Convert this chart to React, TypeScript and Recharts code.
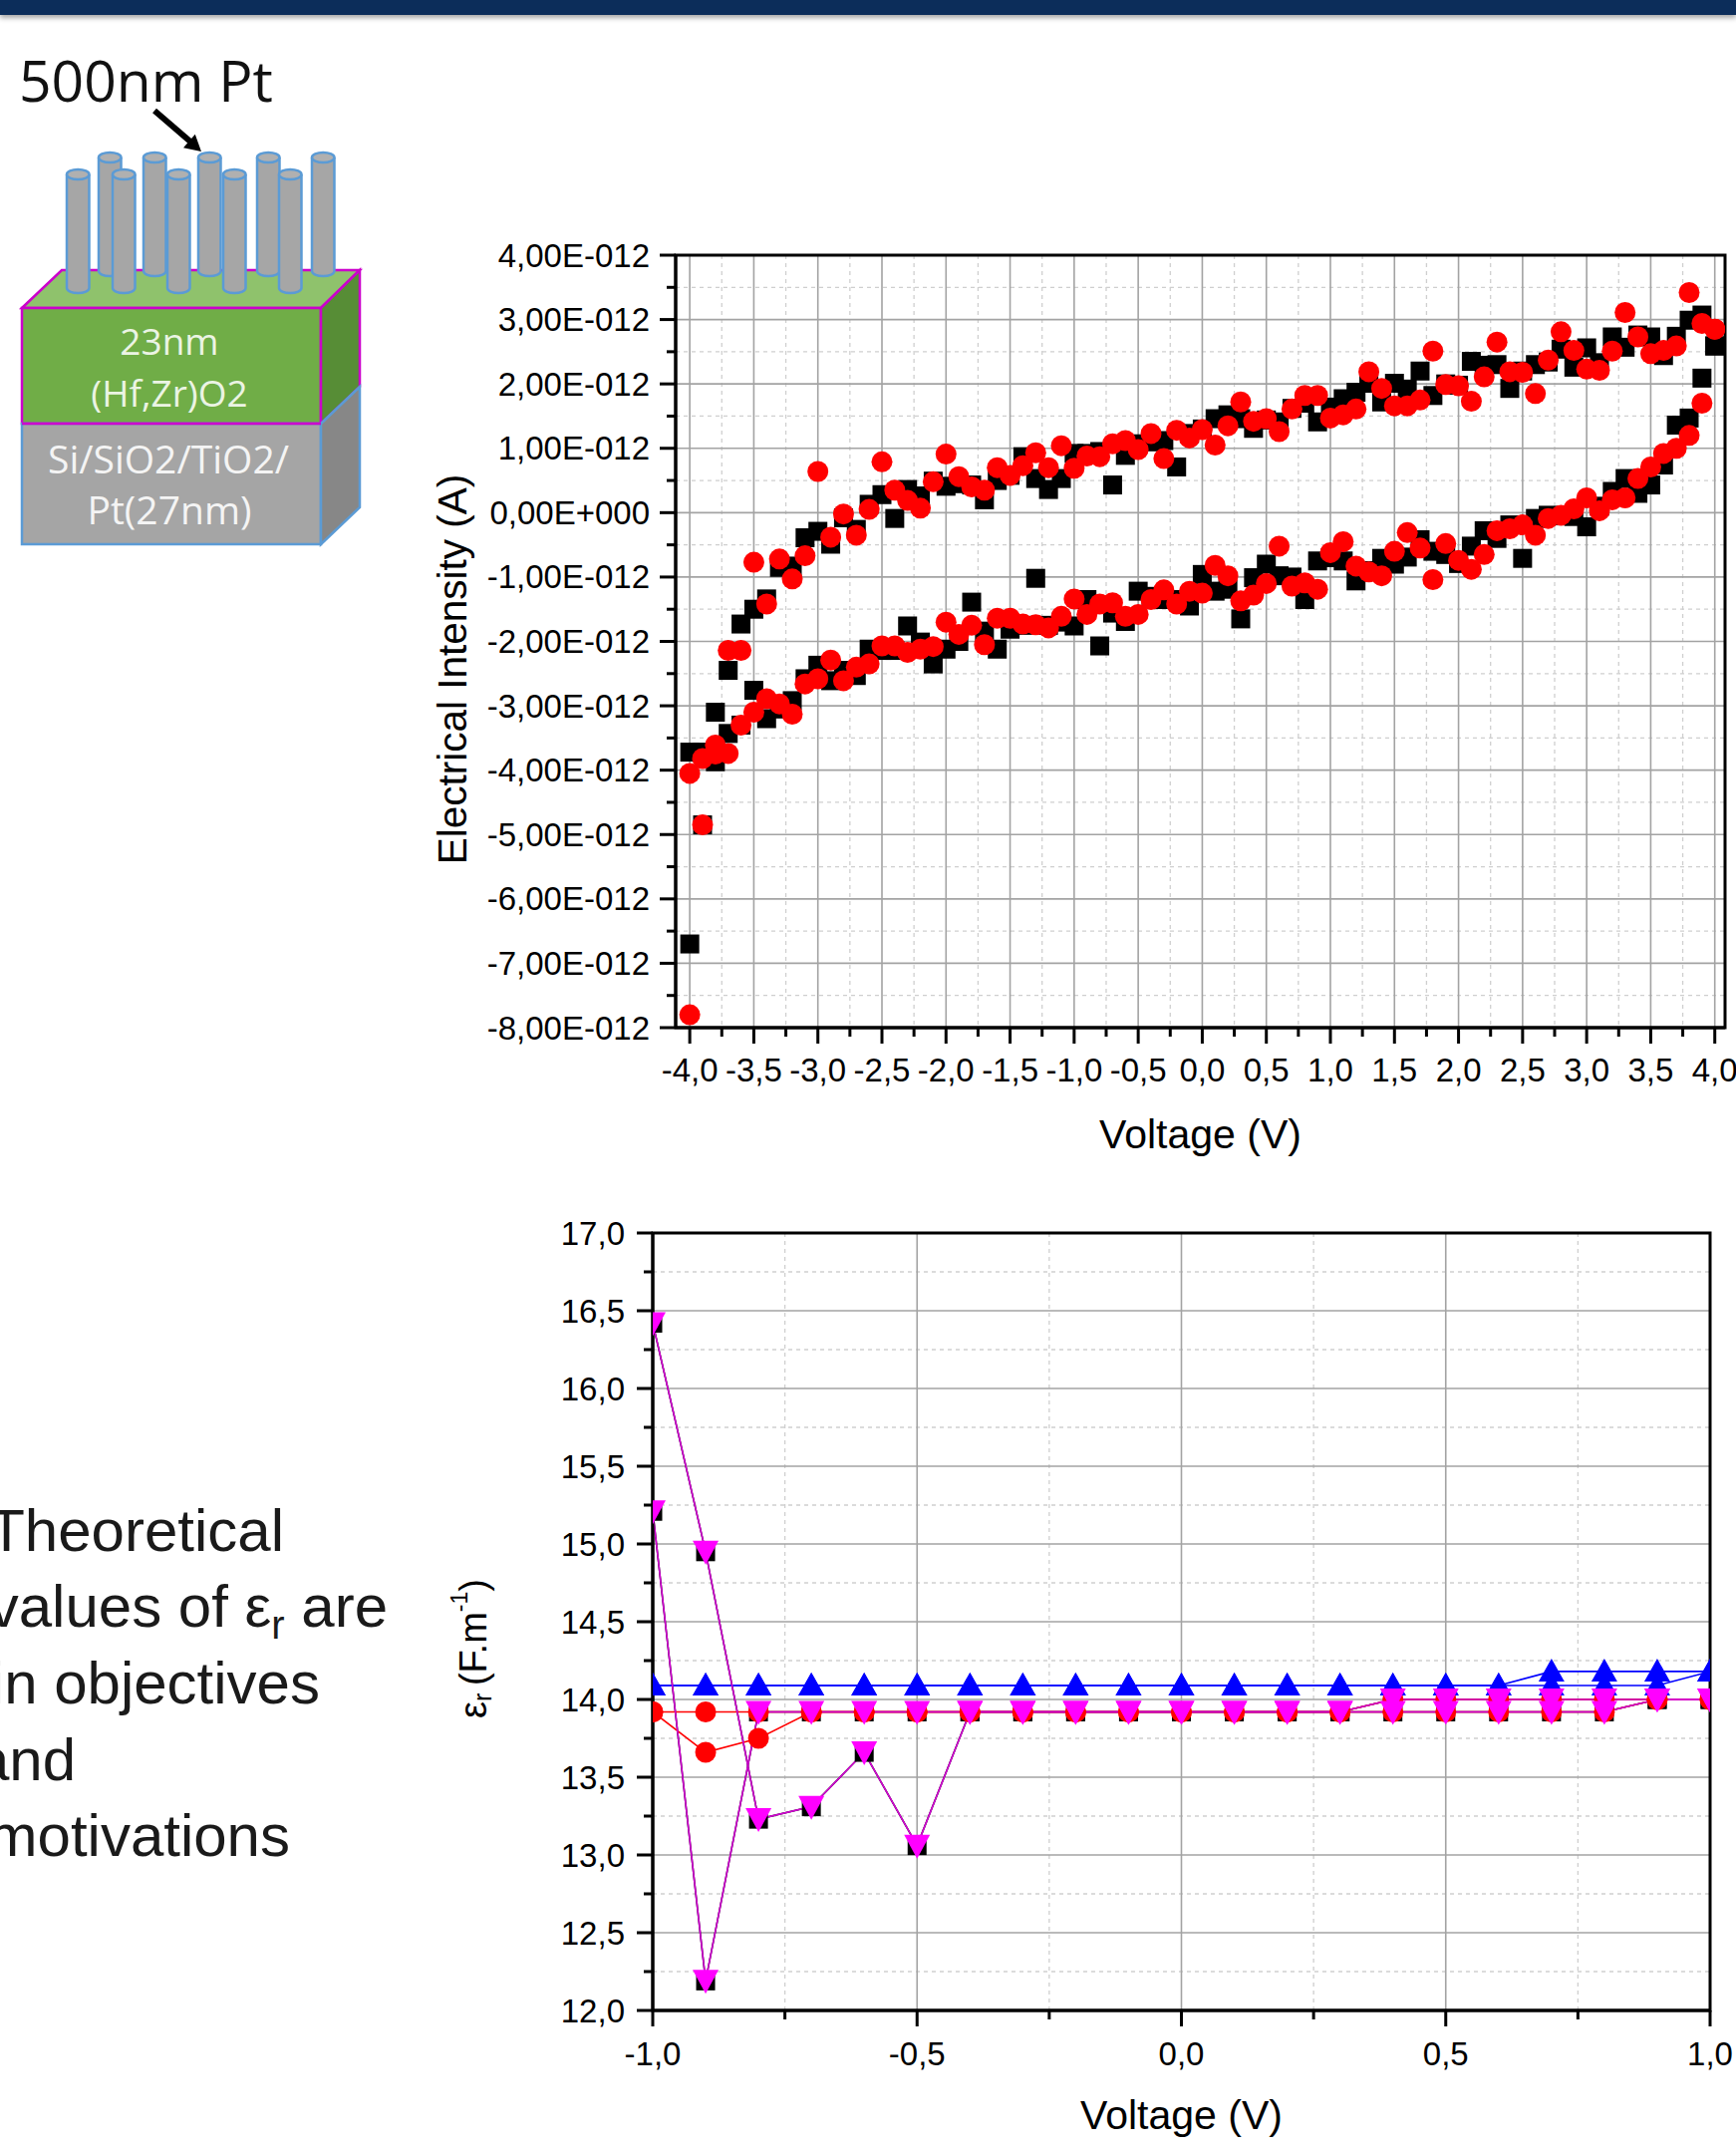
import React from 'react';
import {
  ScatterChart,
  Scatter,
  LineChart,
  Line,
  XAxis,
  YAxis,
  CartesianGrid,
  ReferenceArea,
} from 'recharts';

const FONT = '"Liberation Sans", Arial, sans-serif';
const SLIDE_FONT = '"Open Sans", "Noto Sans", sans-serif';

// ---------------- I–V loop (top chart), current in units of 1E-12 A ----------------
const VOLTAGE = [
  -4.0, -3.9, -3.8, -3.7, -3.6, -3.5, -3.4, -3.3, -3.2, -3.1,
  -3.0, -2.9, -2.8, -2.7, -2.6, -2.5, -2.4, -2.3, -2.2, -2.1,
  -2.0, -1.9, -1.8, -1.7, -1.6, -1.5, -1.4, -1.3, -1.2, -1.1,
  -1.0, -0.9, -0.8, -0.7, -0.6, -0.5, -0.4, -0.3, -0.2, -0.1,
  0.0, 0.1, 0.2, 0.3, 0.4, 0.5, 0.6, 0.7, 0.8, 0.9,
  1.0, 1.1, 1.2, 1.3, 1.4, 1.5, 1.6, 1.7, 1.8, 1.9,
  2.0, 2.1, 2.2, 2.3, 2.4, 2.5, 2.6, 2.7, 2.8, 2.9,
  3.0, 3.1, 3.2, 3.3, 3.4, 3.5, 3.6, 3.7, 3.8, 3.9,
  4.0,
];

const BLACK_UP = [
  -6.70, -4.85, -3.10, -2.45, -1.73, -1.50, -1.34, -0.85, -0.83, -0.39,
  -0.29, -0.49, -0.08, -0.26, 0.13, 0.28, -0.09, 0.36, 0.26, 0.49,
  0.41, 0.45, 0.43, 0.20, 0.50, 0.58, 0.87, 0.53, 0.36, 0.53,
  0.92, 0.92, 0.95, 0.43, 0.89, 1.07, 1.10, 1.12, 0.71, 1.23,
  1.30, 1.46, 1.52, 1.46, 1.31, 1.44, 1.41, 1.62, 1.70, 1.41,
  1.64, 1.77, 1.87, 2.01, 1.72, 2.01, 1.92, 2.20, 1.82, 2.00,
  1.98, 2.35, 2.29, 2.30, 1.93, 2.20, 2.30, 2.34, 2.54, 2.26,
  2.56, 2.33, 2.73, 2.57, 2.76, 2.73, 2.44, 2.74, 2.99, 3.07,
  2.59,
];

const BLACK_DOWN = [
  -3.72, -3.72, -3.87, -3.43, -3.30, -2.76, -3.20, -3.05, -2.92, -2.58,
  -2.37, -2.61, -2.45, -2.53, -2.12, -2.14, -2.14, -1.76, -2.01, -2.35,
  -2.12, -2.00, -1.39, -1.84, -2.12, -1.81, -1.75, -1.02, -1.75, -1.70,
  -1.76, -1.35, -2.07, -1.56, -1.69, -1.22, -1.30, -1.35, -1.35, -1.45,
  -0.96, -1.22, -1.19, -1.65, -1.01, -0.80, -0.98, -1.00, -1.35, -0.75,
  -0.70, -0.75, -1.06, -0.90, -0.71, -0.80, -0.69, -0.42, -0.60, -0.65,
  -0.79, -0.52, -0.28, -0.40, -0.19, -0.71, -0.09, -0.04, -0.05, -0.06,
  -0.22, 0.10, 0.33, 0.53, 0.30, 0.43, 0.74, 1.36, 1.47, 2.09,
  2.59,
];

const RED_UP = [
  -7.80, -4.85, -3.61, -2.14, -2.14, -0.77, -1.42, -0.72, -1.03, -0.67,
  0.64, -0.38, -0.02, -0.35, 0.05, 0.79, 0.35, 0.19, 0.07, 0.48,
  0.91, 0.56, 0.40, 0.35, 0.70, 0.58, 0.73, 0.93, 0.70, 1.04,
  0.69, 0.88, 0.87, 1.07, 1.12, 0.98, 1.23, 0.84, 1.28, 1.16,
  1.29, 1.05, 1.35, 1.72, 1.42, 1.46, 1.26, 1.61, 1.82, 1.82,
  1.47, 1.52, 1.61, 2.19, 1.93, 1.66, 1.66, 1.75, 2.51, 1.99,
  1.97, 1.73, 2.11, 2.65, 2.19, 2.18, 1.85, 2.37, 2.81, 2.52,
  2.23, 2.21, 2.51, 3.11, 2.73, 2.47, 2.52, 2.59, 3.42, 2.94,
  2.85,
];

const RED_DOWN = [
  -4.05, -3.82, -3.75, -3.74, -3.30, -3.10, -2.89, -2.97, -3.13, -2.66,
  -2.58, -2.29, -2.61, -2.40, -2.35, -2.07, -2.07, -2.17, -2.12, -2.08,
  -1.70, -1.89, -1.75, -2.05, -1.64, -1.64, -1.73, -1.74, -1.79, -1.61,
  -1.34, -1.58, -1.42, -1.40, -1.61, -1.58, -1.35, -1.20, -1.42, -1.22,
  -1.25, -0.82, -0.98, -1.37, -1.28, -1.10, -0.52, -1.14, -1.09, -1.19,
  -0.62, -0.45, -0.83, -0.92, -0.98, -0.60, -0.31, -0.55, -1.04, -0.48,
  -0.74, -0.88, -0.65, -0.28, -0.25, -0.19, -0.35, -0.09, -0.04, 0.06,
  0.23, 0.03, 0.20, 0.23, 0.53, 0.71, 0.92, 1.00, 1.20, 1.70,
  2.85,
];

const IV_X_DOMAIN = [-4.11, 4.08];
const IV_Y_DOMAIN = [-8, 4];
const IV_X_TICKS = [
  -4, -3.75, -3.5, -3.25, -3, -2.75, -2.5, -2.25, -2, -1.75, -1.5, -1.25, -1, -0.75, -0.5, -0.25,
  0, 0.25, 0.5, 0.75, 1, 1.25, 1.5, 1.75, 2, 2.25, 2.5, 2.75, 3, 3.25, 3.5, 3.75, 4,
];
const IV_X_MAJOR = [-4, -3.5, -3, -2.5, -2, -1.5, -1, -0.5, 0, 0.5, 1, 1.5, 2, 2.5, 3, 3.5, 4];
const IV_X_MINOR = [-3.75, -3.25, -2.75, -2.25, -1.75, -1.25, -0.75, -0.25, 0.25, 0.75, 1.25, 1.75, 2.25, 2.75, 3.25, 3.75];
const IV_Y_TICKS = [
  -8, -7.5, -7, -6.5, -6, -5.5, -5, -4.5, -4, -3.5, -3, -2.5, -2, -1.5, -1, -0.5,
  0, 0.5, 1, 1.5, 2, 2.5, 3, 3.5, 4,
];
const IV_Y_MAJOR = [-8, -7, -6, -5, -4, -3, -2, -1, 0, 1, 2, 3, 4];
const IV_Y_MINOR = [-7.5, -6.5, -5.5, -4.5, -3.5, -2.5, -1.5, -0.5, 0.5, 1.5, 2.5, 3.5];

// ---------------- permittivity vs voltage (bottom chart) ----------------
const EPS_VOLTAGE = [
  -1.0, -0.9, -0.8, -0.7, -0.6, -0.5, -0.4, -0.3, -0.2, -0.1,
  0.0, 0.1, 0.2, 0.3, 0.4, 0.5, 0.6, 0.7, 0.8, 0.9, 1.0,
];
const BLUE_A = [
  14.09, 14.09, 14.09, 14.09, 14.09, 14.09, 14.09, 14.09, 14.09, 14.09,
  14.09, 14.09, 14.09, 14.09, 14.09, 14.09, 14.09, 14.09, 14.09, 14.09, 14.18,
];
const BLUE_B = [
  14.09, 14.09, 14.09, 14.09, 14.09, 14.09, 14.09, 14.09, 14.09, 14.09,
  14.09, 14.09, 14.09, 14.09, 14.09, 14.09, 14.09, 14.18, 14.18, 14.18, 14.18,
];
const RED_A = [
  13.92, 13.66, 13.75, 13.92, 13.92, 13.92, 13.92, 13.92, 13.92, 13.92,
  13.92, 13.92, 13.92, 13.92, 14.0, 14.0, 14.0, 14.0, 14.0, 14.0, 14.0,
];
const RED_B = [
  13.92, 13.92, 13.92, 13.92, 13.92, 13.92, 13.92, 13.92, 13.92, 13.92,
  13.92, 13.92, 13.92, 13.92, 13.92, 13.92, 13.92, 13.92, 13.92, 14.0, 14.0,
];
const MAGENTA_A = [
  16.42, 14.95, 13.23, 13.31, 13.66, 13.06, 13.92, 13.92, 13.92, 13.92,
  13.92, 13.92, 13.92, 13.92, 14.0, 14.0, 14.0, 14.0, 14.0, 14.0, 14.0,
];
const MAGENTA_B = [
  15.21, 12.19, 13.92, 13.92, 13.92, 13.92, 13.92, 13.92, 13.92, 13.92,
  13.92, 13.92, 13.92, 13.92, 13.92, 13.92, 13.92, 13.92, 13.92, 14.0, 14.0,
];
const BLACK_A = [
  16.42, 14.95, 13.23, 13.31, 13.66, 13.06, 13.92, 13.92, 13.92, 13.92,
  13.92, 13.92, 13.92, 13.92, 14.0, 14.0, 14.0, 14.0, 14.0, 14.0, 14.0,
];
const BLACK_B = [
  15.21, 12.19, 13.92, 13.92, 13.92, 13.92, 13.92, 13.92, 13.92, 13.92,
  13.92, 13.92, 13.92, 13.92, 13.92, 13.92, 13.92, 13.92, 13.92, 14.0, 14.0,
];

const EPS_X_DOMAIN = [-1, 1];
const EPS_Y_DOMAIN = [12, 17];
const EPS_X_TICKS = [-1, -0.75, -0.5, -0.25, 0, 0.25, 0.5, 0.75, 1];
const EPS_X_MAJOR = [-1, -0.5, 0, 0.5, 1];
const EPS_X_MINOR = [-0.75, -0.25, 0.25, 0.75];
const EPS_Y_TICKS = [
  12, 12.25, 12.5, 12.75, 13, 13.25, 13.5, 13.75, 14, 14.25, 14.5, 14.75,
  15, 15.25, 15.5, 15.75, 16, 16.25, 16.5, 16.75, 17,
];
const EPS_Y_MAJOR = [12, 12.5, 13, 13.5, 14, 14.5, 15, 15.5, 16, 16.5, 17];
const EPS_Y_MINOR = [12.25, 12.75, 13.25, 13.75, 14.25, 14.75, 15.25, 15.75, 16.25, 16.75];

// ---------------- derived tables ----------------
const toPoints = (up: number[], down: number[]) => [
  ...VOLTAGE.map((v, k) => ({ v, i: up[k] })),
  ...VOLTAGE.map((v, k) => ({ v, i: down[k] })),
];
const BLACK_POINTS = toPoints(BLACK_UP, BLACK_DOWN);
const RED_POINTS = toPoints(RED_UP, RED_DOWN);

const EPS_ROWS = EPS_VOLTAGE.map((v, k) => ({
  v,
  blkA: BLACK_A[k],
  blkB: BLACK_B[k],
  redA: RED_A[k],
  redB: RED_B[k],
  blueA: BLUE_A[k],
  blueB: BLUE_B[k],
  magA: MAGENTA_A[k],
  magB: MAGENTA_B[k],
}));

// ---------------- formatters / tick renderers ----------------
const isMultiple = (v: number, step: number) => Math.abs(v / step - Math.round(v / step)) < 1e-6;
const fmtComma1 = (v: number) => (Math.abs(v) < 1e-9 ? 0 : v).toFixed(1).replace('.', ',');
const fmtCurrent = (v: number) =>
  Math.abs(v) < 1e-9 ? '0,00E+000' : `${v.toFixed(2).replace('.', ',')}E-012`;

const makeXTick = (step: number, fmt: (v: number) => string, gap: number, fontSize: number) => (props: any) => {
  const { x, y, payload } = props;
  const v = payload.value;
  const major = isMultiple(v, step);
  return (
    <g>
      <line x1={x} x2={x} y1={y} y2={y + (major ? 16 : 9)} stroke="#000" strokeWidth={3} />
      {major && (
        <text x={x} y={y + gap} textAnchor="middle" dominantBaseline="central" fontFamily={FONT} fontSize={fontSize} fill="#000">
          {fmt(v)}
        </text>
      )}
    </g>
  );
};

const makeYTick = (step: number, fmt: (v: number) => string, gap: number, fontSize: number) => (props: any) => {
  const { x, y, payload } = props;
  const v = payload.value;
  const major = isMultiple(v, step);
  return (
    <g>
      <line x1={x} x2={x - (major ? 16 : 9)} y1={y} y2={y} stroke="#000" strokeWidth={3} />
      {major && (
        <text x={x - gap} y={y} textAnchor="end" dominantBaseline="central" fontFamily={FONT} fontSize={fontSize} fill="#000">
          {fmt(v)}
        </text>
      )}
    </g>
  );
};

const XTitle = (props: any) => {
  const { viewBox, text, dy } = props;
  const { x, y, width } = viewBox;
  return (
    <text x={x + width / 2} y={y + dy} textAnchor="middle" dominantBaseline="central" fontFamily={FONT} fontSize={41} fill="#000">
      {text}
    </text>
  );
};

const IVYTitle = (props: any) => {
  const { viewBox } = props;
  const cx = viewBox.x + viewBox.width - 224;
  const cy = viewBox.y + viewBox.height / 2 + 28;
  return (
    <text x={cx} y={cy} transform={`rotate(-90 ${cx} ${cy})`} textAnchor="middle" dominantBaseline="central" fontFamily={FONT} fontSize={40.5} fill="#000">
      Electrical Intensity (A)
    </text>
  );
};

const EpsYTitle = (props: any) => {
  const { viewBox } = props;
  const cx = viewBox.x + viewBox.width - 180;
  const cy = viewBox.y + viewBox.height / 2 + 27;
  return (
    <text x={cx} y={cy} transform={`rotate(-90 ${cx} ${cy})`} textAnchor="middle" dominantBaseline="central" fontFamily={FONT} fontSize={38} fill="#000">
      ε
      <tspan fontSize={25} dy={9}>r</tspan>
      <tspan dy={-9}>{'\u2009(F.m'}</tspan>
      <tspan fontSize={23} dy={-14}>-1</tspan>
      <tspan dy={14}>)</tspan>
    </text>
  );
};

// ---------------- marker shapes ----------------
const squareShape = (size: number, color: string) => (p: any) => (
  <rect key={`s-${p.index}-${p.cx}-${p.cy}`} x={p.cx - size / 2} y={p.cy - size / 2} width={size} height={size} fill={color} />
);
const circleShape = (r: number, color: string) => (p: any) => (
  <circle key={`c-${p.index}-${p.cx}-${p.cy}`} cx={p.cx} cy={p.cy} r={r} fill={color} />
);
const triUpShape = (color: string) => (p: any) => (
  <polygon
    key={`u-${p.index}-${p.cx}-${p.cy}`}
    points={`${p.cx},${p.cy - 13} ${p.cx + 13},${p.cy + 10} ${p.cx - 13},${p.cy + 10}`}
    fill={color}
  />
);
const triDownShape = (color: string) => (p: any) => (
  <polygon
    key={`d-${p.index}-${p.cx}-${p.cy}`}
    points={`${p.cx - 13},${p.cy - 11} ${p.cx + 13},${p.cy - 11} ${p.cx},${p.cy + 13}`}
    fill={color}
  />
);

const AXIS_LINE = { stroke: '#000', strokeWidth: 3 };

// ---------------- charts ----------------
const IVChart = () => (
  <ScatterChart width={1742} height={1180} margin={{ top: 256, right: 11, bottom: 9, left: 378 }}>
    <CartesianGrid verticalValues={IV_X_MINOR} horizontalValues={IV_Y_MINOR} stroke="#cfcfcf" strokeDasharray="4 4" strokeWidth={1.3} />
    <CartesianGrid verticalValues={IV_X_MAJOR} horizontalValues={IV_Y_MAJOR} stroke="#a3a3a3" strokeWidth={1.6} />
    <XAxis
      type="number"
      dataKey="v"
      domain={IV_X_DOMAIN}
      ticks={IV_X_TICKS}
      interval={0}
      allowDataOverflow
      height={140}
      tickLine={false}
      tickSize={0}
      tickMargin={0}
      axisLine={AXIS_LINE}
      tick={makeXTick(0.5, fmtComma1, 42, 33)}
      label={<XTitle text="Voltage (V)" dy={107} />}
    />
    <YAxis
      type="number"
      dataKey="i"
      domain={IV_Y_DOMAIN}
      ticks={IV_Y_TICKS}
      interval={0}
      allowDataOverflow
      width={300}
      tickLine={false}
      tickSize={0}
      tickMargin={0}
      axisLine={AXIS_LINE}
      tick={makeYTick(1, fmtCurrent, 26, 33)}
      label={<IVYTitle />}
    />
    <ReferenceArea
      x1={IV_X_DOMAIN[0]}
      x2={IV_X_DOMAIN[1]}
      y1={IV_Y_DOMAIN[0]}
      y2={IV_Y_DOMAIN[1]}
      fill="none"
      fillOpacity={0}
      stroke="#000"
      strokeWidth={3}
      ifOverflow="visible"
    />
    <Scatter data={BLACK_POINTS} shape={squareShape(19, '#000000')} isAnimationActive={false} />
    <Scatter data={RED_POINTS} shape={circleShape(10.5, '#ff0000')} isAnimationActive={false} />
  </ScatterChart>
);

const EPS_SERIES = [
  { key: 'blkA', color: '#000000', dot: squareShape(19, '#000000') },
  { key: 'blkB', color: '#000000', dot: squareShape(19, '#000000') },
  { key: 'redA', color: '#ff0000', dot: circleShape(10.5, '#ff0000') },
  { key: 'redB', color: '#ff0000', dot: circleShape(10.5, '#ff0000') },
  { key: 'blueA', color: '#0000ff', dot: triUpShape('#0000ff') },
  { key: 'blueB', color: '#0000ff', dot: triUpShape('#0000ff') },
  { key: 'magA', color: '#d400d4', dot: triDownShape('#ff00ff') },
  { key: 'magB', color: '#d400d4', dot: triDownShape('#ff00ff') },
];

const EpsChart = () => (
  <LineChart width={1742} height={977} data={EPS_ROWS} margin={{ top: 57, right: 26, bottom: 10, left: 405 }}>
    <CartesianGrid verticalValues={EPS_X_MINOR} horizontalValues={EPS_Y_MINOR} stroke="#cfcfcf" strokeDasharray="4 4" strokeWidth={1.3} />
    <CartesianGrid verticalValues={EPS_X_MAJOR} horizontalValues={EPS_Y_MAJOR} stroke="#a3a3a3" strokeWidth={1.6} />
    <XAxis
      type="number"
      dataKey="v"
      domain={EPS_X_DOMAIN}
      ticks={EPS_X_TICKS}
      interval={0}
      allowDataOverflow
      height={130}
      tickLine={false}
      tickSize={0}
      tickMargin={0}
      axisLine={AXIS_LINE}
      tick={makeXTick(0.5, fmtComma1, 43, 33)}
      label={<XTitle text="Voltage (V)" dy={105} />}
    />
    <YAxis
      type="number"
      domain={EPS_Y_DOMAIN}
      ticks={EPS_Y_TICKS}
      interval={0}
      allowDataOverflow
      width={250}
      tickLine={false}
      tickSize={0}
      tickMargin={0}
      axisLine={AXIS_LINE}
      tick={makeYTick(0.5, fmtComma1, 28, 33)}
      label={<EpsYTitle />}
    />
    <ReferenceArea
      x1={EPS_X_DOMAIN[0]}
      x2={EPS_X_DOMAIN[1]}
      y1={EPS_Y_DOMAIN[0]}
      y2={EPS_Y_DOMAIN[1]}
      fill="none"
      fillOpacity={0}
      stroke="#000"
      strokeWidth={3}
      ifOverflow="visible"
    />
    {EPS_SERIES.map((s) => (
      <Line
        key={s.key}
        type="linear"
        dataKey={s.key}
        stroke={s.color}
        strokeWidth={1.6}
        dot={s.dot}
        activeDot={false}
        isAnimationActive={false}
      />
    ))}
  </LineChart>
);

// ---------------- slide decorations ----------------
const Pillar = ({ x, top, bottom }: { x: number; top: number; bottom: number }) => {
  const w = 22.5;
  const rx = w / 2;
  const ry = 5;
  return (
    <g>
      <path
        d={`M${x},${top + ry} L${x},${bottom - ry} A${rx},${ry} 0 0 0 ${x + w},${bottom - ry} L${x + w},${top + ry}`}
        fill="#a6a6a6"
        stroke="#5b9bd5"
        strokeWidth={2.5}
      />
      <ellipse cx={x + rx} cy={top + ry} rx={rx} ry={ry} fill="#b0b0b0" stroke="#5b9bd5" strokeWidth={2.5} />
    </g>
  );
};

const BACK_PILLARS = [99, 144, 199, 258, 313];
const FRONT_PILLARS = [67, 113, 168, 224, 280];

const Diagram = () => (
  <svg width={420} height={600} style={{ position: 'absolute', left: 0, top: 0 }}>
    <text x={19} y={102} fontFamily={SLIDE_FONT} fontSize={57} fill="#111">500nm Pt</text>
    <line x1={155} y1={111} x2={191} y2={142} stroke="#000" strokeWidth={6} />
    <polygon points="202,152 184,148.3 195.8,134.7" fill="#000" />
    <polygon points="22,309 62,271 361,271 322,309" fill="#8fc26c" stroke="#cc00cc" strokeWidth={2.5} />
    {BACK_PILLARS.map((x) => (
      <Pillar key={`b${x}`} x={x} top={153} bottom={277} />
    ))}
    {FRONT_PILLARS.map((x) => (
      <Pillar key={`f${x}`} x={x} top={170} bottom={294} />
    ))}
    <rect x={22} y={309} width={300} height={116} fill="#70ad47" stroke="#cc00cc" strokeWidth={2.5} />
    <polygon points="322,309 361,271 361,388 322,425" fill="#578d36" stroke="#cc00cc" strokeWidth={2.5} />
    <rect x={22} y={425} width={300} height={121} fill="#a5a5a5" stroke="#5b9bd5" strokeWidth={2.5} />
    <polygon points="322,425 361,388 361,509 322,546" fill="#878787" stroke="#5b9bd5" strokeWidth={2.5} />
    <line x1={22} y1={425} x2={322} y2={425} stroke="#cc00cc" strokeWidth={2.5} />
    <text x={170} y={356} textAnchor="middle" fontFamily={SLIDE_FONT} fontSize={37} fill="#ebf4e4">23nm</text>
    <text x={170} y={408} textAnchor="middle" fontFamily={SLIDE_FONT} fontSize={37} fill="#ebf4e4">(Hf,Zr)O2</text>
    <text x={169} y={475} textAnchor="middle" fontFamily={SLIDE_FONT} fontSize={39} fill="#f4f4f4">Si/SiO2/TiO2/</text>
    <text x={170} y={526} textAnchor="middle" fontFamily={SLIDE_FONT} fontSize={39} fill="#f4f4f4">Pt(27nm)</text>
  </svg>
);

const SideText = () => (
  <svg width={420} height={460} style={{ position: 'absolute', left: 0, top: 1450 }}>
    <g fontFamily={FONT} fontSize={60} fill="#1a1a1a" textAnchor="end">
      <text x={285} y={106}>Theoretical</text>
      <text x={389} y={182}>
        values of ε<tspan fontSize={40} dy={12}>r</tspan>
        <tspan dy={-12}> are</tspan>
      </text>
      <text x={321} y={259}>in objectives</text>
      <text x={76} y={336}>and</text>
      <text x={291} y={412}>motivations</text>
    </g>
  </svg>
);

export default function App() {
  return (
    <div
      style={{
        position: 'absolute',
        left: 0,
        top: 0,
        width: 1742,
        height: 2157,
        background: '#ffffff',
        overflow: 'hidden',
      }}
    >
      <div style={{ position: 'absolute', left: 0, top: 0 }}>
        <IVChart />
      </div>
      <div style={{ position: 'absolute', left: 0, top: 1180 }}>
        <EpsChart />
      </div>
      <Diagram />
      <SideText />
      <div
        style={{
          position: 'absolute',
          left: 0,
          top: 0,
          width: 1742,
          height: 15,
          background: '#0c2d5a',
          boxShadow: '0 3px 5px rgba(0,0,0,0.35)',
        }}
      />
    </div>
  );
}
